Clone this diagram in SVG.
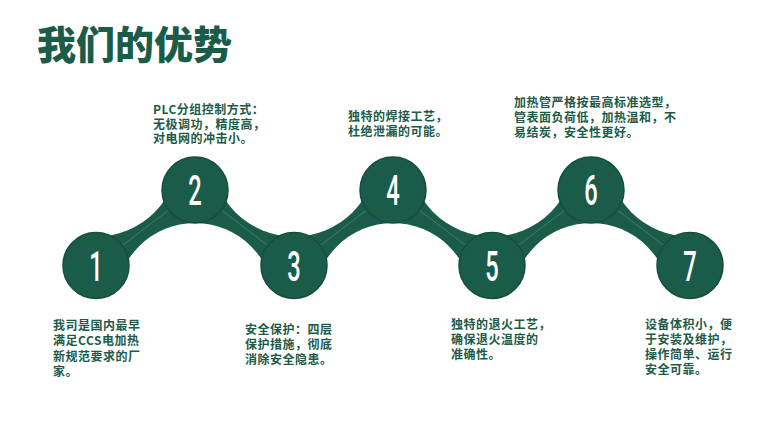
<svg xmlns="http://www.w3.org/2000/svg" width="782" height="429" viewBox="0 0 782 429">
  <style>
    .title { font-family: "Noto Sans CJK SC", "Noto Sans", sans-serif; font-size: 39px; font-weight: 900; fill: #1b5c49; }
    .desc { font-family: "Noto Sans CJK SC", "Noto Sans", sans-serif; font-size: 12px; font-weight: 700; fill: #1d5a47; letter-spacing: 0.5px; }
    .node circle { fill: #1a5b4a; stroke: #154d3e; stroke-width: 1.5; }
    .num { font-family: Roboto, "Liberation Sans", sans-serif; font-size: 43px; font-weight: 500; fill: #ffffff; text-anchor: middle; }
    .hl { stroke: #3f7c67; stroke-width: 1; fill: none; }
  </style>
  <defs>
    <mask id="cut" maskUnits="userSpaceOnUse" x="0" y="0" width="782" height="429">
      <rect x="0" y="0" width="782" height="429" fill="#fff"/>
      <circle cx="96" cy="153.5" r="83" fill="#000"/>
      <circle cx="294" cy="153.5" r="83" fill="#000"/>
      <circle cx="492" cy="153.5" r="83" fill="#000"/>
      <circle cx="690" cy="153.5" r="83" fill="#000"/>
      <circle cx="195" cy="302" r="79" fill="#000"/>
      <circle cx="393" cy="302" r="79" fill="#000"/>
      <circle cx="591" cy="302" r="79" fill="#000"/>
    </mask>
  </defs>
  <rect x="0" y="0" width="782" height="429" fill="#ffffff"/>

  <text class="title" x="37" y="59">我们的优势</text>

  <g id="connectors">
    <polyline points="96,265.5 195,190 294,265.5 393,190 492,265.5 591,190 690,265.5" fill="none" stroke="#1a5b4a" stroke-width="64" stroke-linejoin="round" stroke-linecap="round" mask="url(#cut)"/>
    <polyline class="hl" points="96,265.5 195,190 294,265.5 393,190 492,265.5 591,190 690,265.5"/>
  </g>

  <g id="node1" class="node">
    <circle cx="96" cy="265.5" r="33"/>
    <text class="num" transform="translate(96 280.5) scale(0.55 1)">1</text>
    <text class="desc"><tspan x="53" y="330">我司是国内最早</tspan><tspan x="53" y="345.3">满足CCS电加热</tspan><tspan x="53" y="360.6">新规范要求的厂</tspan><tspan x="53" y="375.9">家。</tspan></text>
  </g>
  <g id="node2" class="node">
    <circle cx="195" cy="190" r="33"/>
    <text class="num" transform="translate(195 205) scale(0.55 1)">2</text>
    <text class="desc"><tspan x="153" y="114">PLC分组控制方式：</tspan><tspan x="153" y="128.7">无极调功，精度高，</tspan><tspan x="153" y="143.4">对电网的冲击小。</tspan></text>
  </g>
  <g id="node3" class="node">
    <circle cx="294" cy="265.5" r="33"/>
    <text class="num" transform="translate(294 280.5) scale(0.55 1)">3</text>
    <text class="desc"><tspan x="245" y="334">安全保护：四层</tspan><tspan x="245" y="349">保护措施，彻底</tspan><tspan x="245" y="364">消除安全隐患。</tspan></text>
  </g>
  <g id="node4" class="node">
    <circle cx="393" cy="190" r="33"/>
    <text class="num" transform="translate(393 205) scale(0.55 1)">4</text>
    <text class="desc"><tspan x="348" y="121">独特的焊接工艺，</tspan><tspan x="348" y="136">杜绝泄漏的可能。</tspan></text>
  </g>
  <g id="node5" class="node">
    <circle cx="492" cy="265.5" r="33"/>
    <text class="num" transform="translate(492 280.5) scale(0.55 1)">5</text>
    <text class="desc"><tspan x="451" y="329">独特的退火工艺，</tspan><tspan x="451" y="344">确保退火温度的</tspan><tspan x="451" y="359">准确性。</tspan></text>
  </g>
  <g id="node6" class="node">
    <circle cx="591" cy="190" r="33"/>
    <text class="num" transform="translate(591 205) scale(0.55 1)">6</text>
    <text class="desc"><tspan x="514" y="106.5">加热管严格按最高标准选型，</tspan><tspan x="514" y="122">管表面负荷低，加热温和，不</tspan><tspan x="514" y="137">易结炭，安全性更好。</tspan></text>
  </g>
  <g id="node7" class="node">
    <circle cx="690" cy="265.5" r="33"/>
    <text class="num" transform="translate(690 280.5) scale(0.55 1)">7</text>
    <text class="desc"><tspan x="645" y="329">设备体积小，便</tspan><tspan x="645" y="344">于安装及维护，</tspan><tspan x="645" y="359">操作简单、运行</tspan><tspan x="645" y="374">安全可靠。</tspan></text>
  </g>
</svg>
